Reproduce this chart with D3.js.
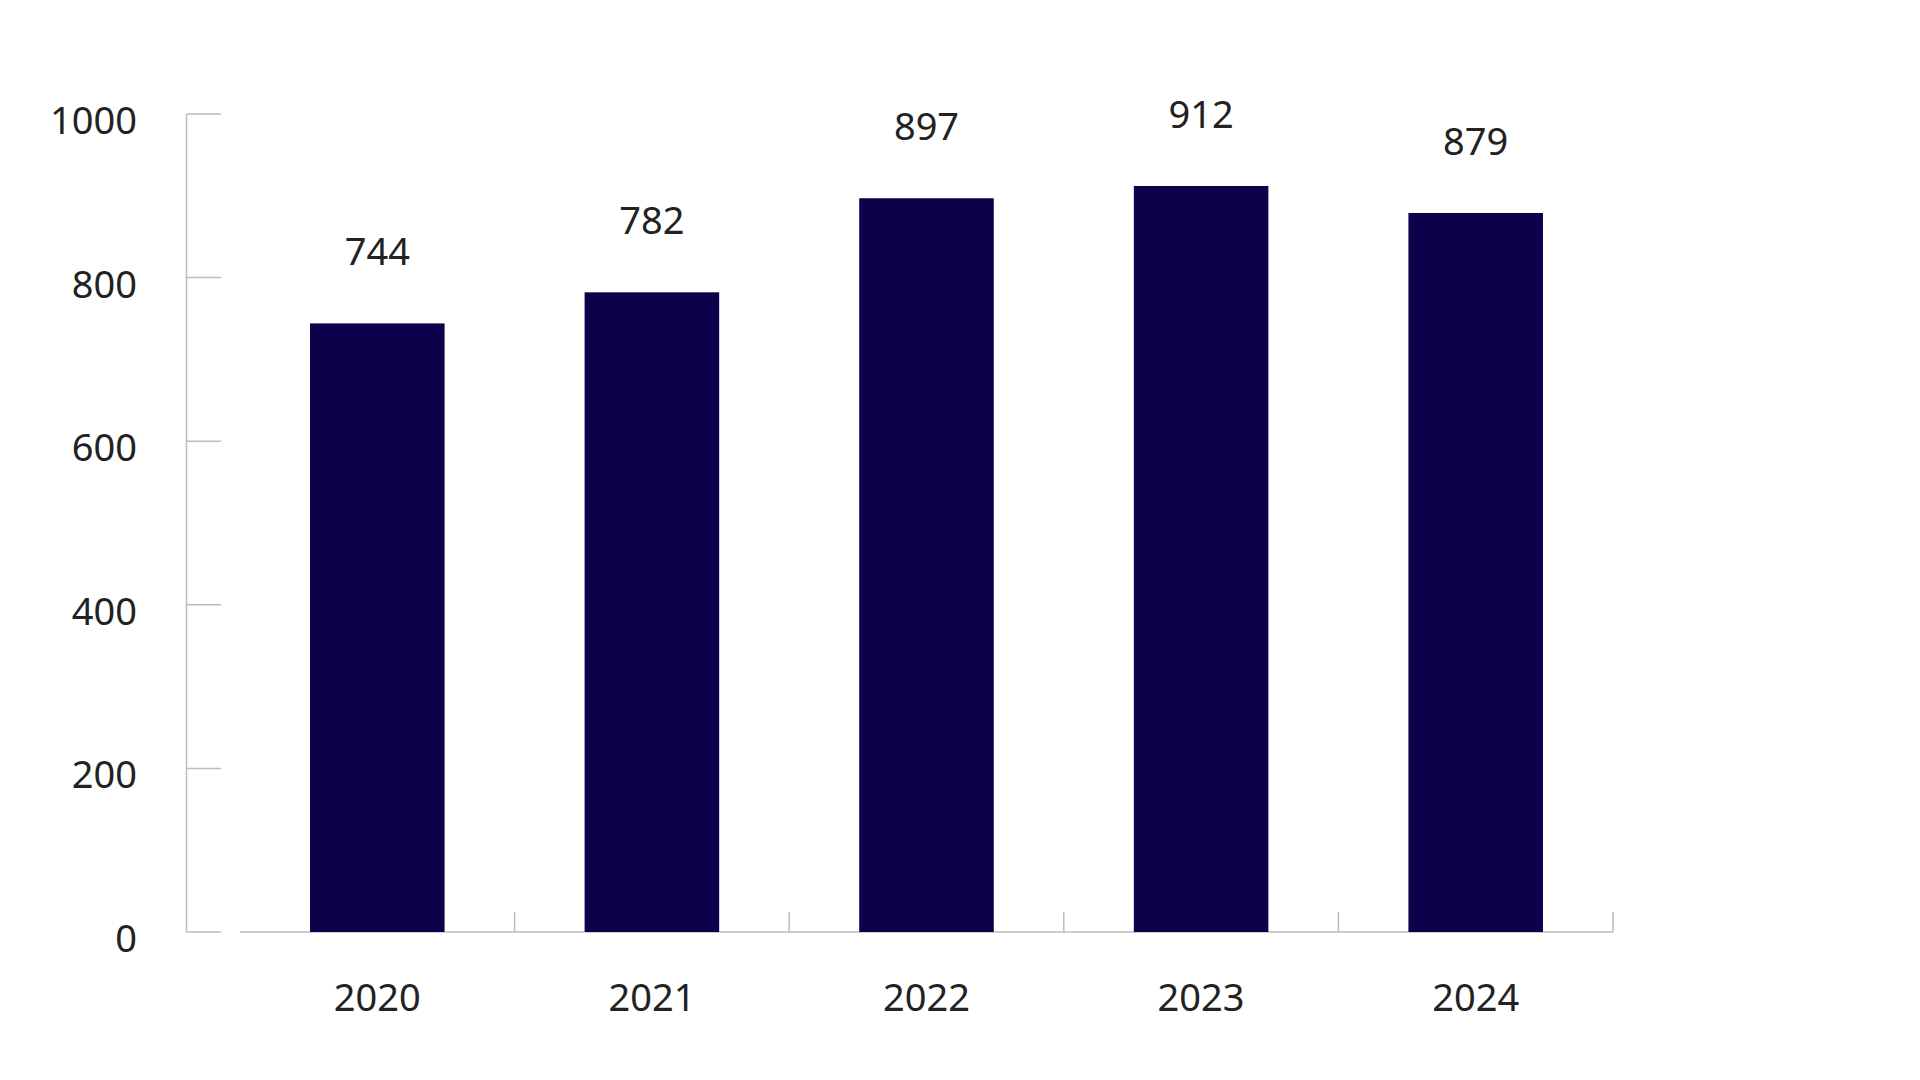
<!DOCTYPE html>
<html><head><meta charset="utf-8">
<script src="https://cdn.jsdelivr.net/npm/d3@7"></script>
<style>body{margin:0;background:#fff}text{font-family:"Noto Sans",sans-serif;fill:#222}</style>
</head><body><svg id="c" width="1920" height="1080"></svg>
<script>
const years = ["2020","2021","2022","2023","2024"];
const values = [744,782,897,912,879];
const yTicks = [0,200,400,600,800,1000];

const svg = d3.select("#c");
const x = d3.scaleBand().domain(years).range([240,1613]).paddingInner(0.51).paddingOuter(0.255);
const y = d3.scaleLinear().domain([0,1000]).range([932,114]);
const axisColor = "#bdbdbd";

// y axis
svg.append("line").attr("x1",186.5).attr("x2",186.5).attr("y1",y(1000)).attr("y2",y(0)).attr("stroke",axisColor).attr("stroke-width",1.5);
svg.selectAll(".yt").data(yTicks).join("line").attr("x1",186.5).attr("x2",221)
  .attr("y1",d=>y(d)).attr("y2",d=>y(d)).attr("stroke",axisColor).attr("stroke-width",1.5);
svg.selectAll(".yl").data(yTicks).join("text").attr("x",137).attr("y",d=>y(d)+20)
  .attr("text-anchor","end").attr("font-size",38).text(d=>d);

// x axis
svg.append("line").attr("x1",240).attr("x2",1613).attr("y1",y(0)).attr("y2",y(0)).attr("stroke",axisColor).attr("stroke-width",1.5);
const edges = years.map((d,i)=>240+(i+1)*(1373/5));
svg.selectAll(".xt").data(edges).join("line").attr("x1",d=>d).attr("x2",d=>d)
  .attr("y1",y(0)-20).attr("y2",y(0)).attr("stroke",axisColor).attr("stroke-width",1.5);

svg.selectAll(".bar").data(values).join("rect")
  .attr("x",(d,i)=>x(years[i])).attr("width",x.bandwidth())
  .attr("y",d=>y(d)).attr("height",d=>y(0)-y(d)).attr("fill","#0f004b");

svg.selectAll(".vl").data(values).join("text")
  .attr("x",(d,i)=>x(years[i])+x.bandwidth()/2).attr("y",d=>y(d)-58)
  .attr("text-anchor","middle").attr("font-size",38).text(d=>d);

svg.selectAll(".xl").data(years).join("text")
  .attr("x",d=>x(d)+x.bandwidth()/2).attr("y",1011)
  .attr("text-anchor","middle").attr("font-size",38).text(d=>d);
</script></body></html>
